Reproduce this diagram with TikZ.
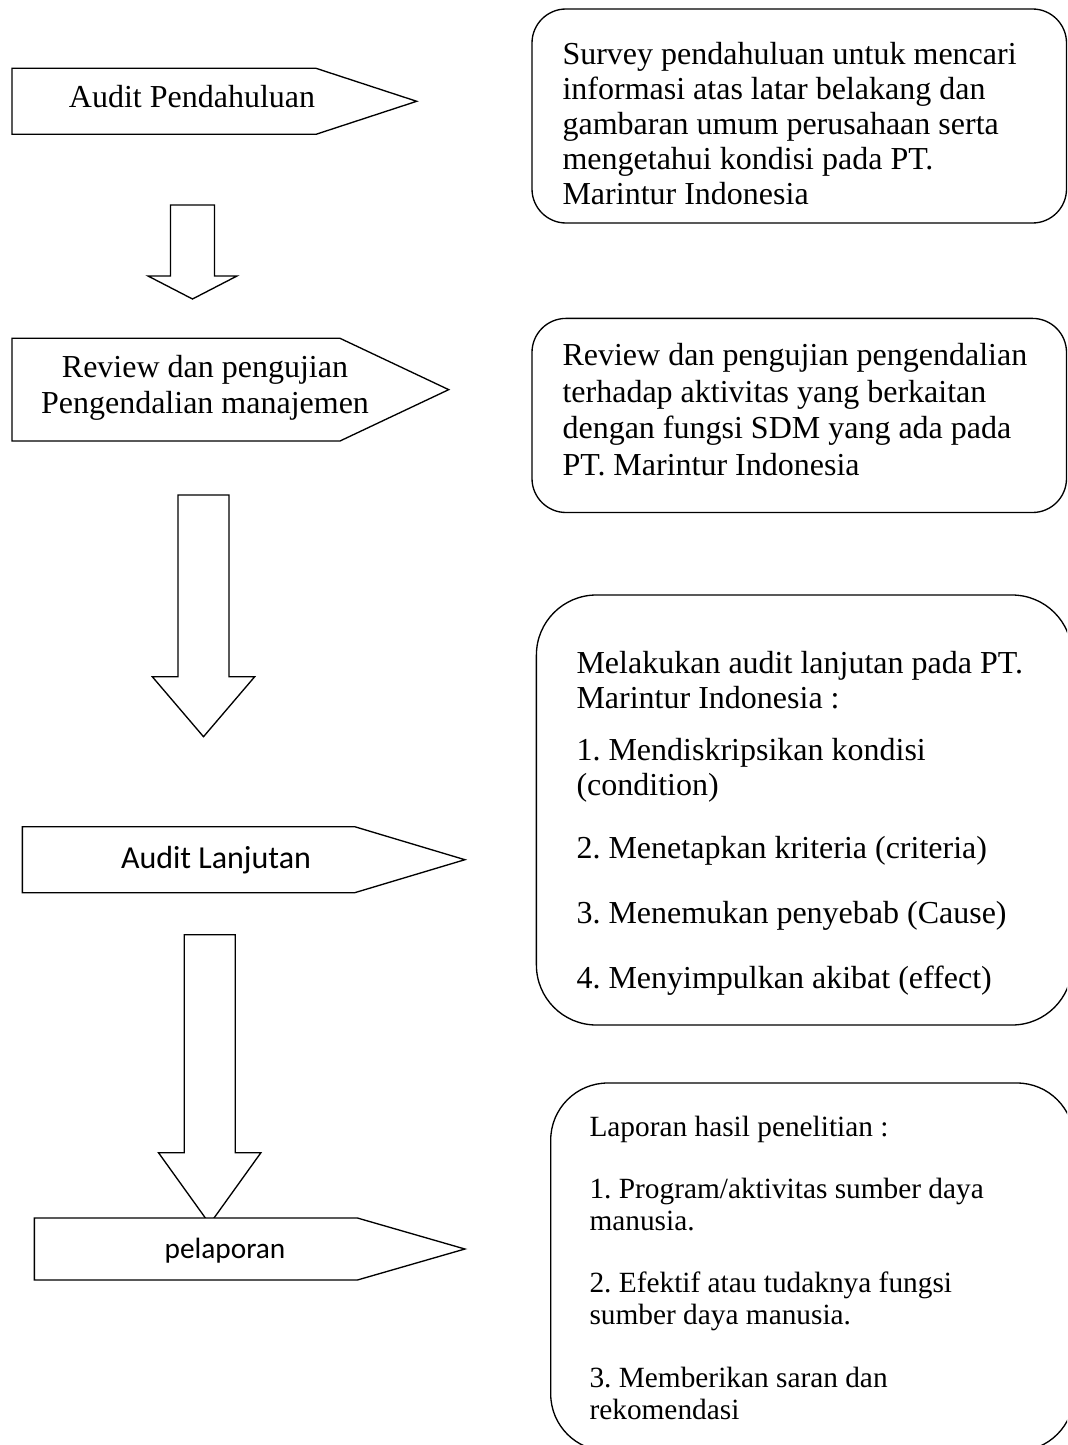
\documentclass[tikz,border=0pt]{standalone}
\usepackage{fontspec}
\setmainfont{Liberation Serif}
\newfontfamily\calibri{Carlito}
\frenchspacing

% block arrow: x, top, head, tip, shaft half width, head half width
\newcommand{\blockarrow}[6]{\draw[blk] ({#1-#5},#2) -- ({#1+#5},#2) -- ({#1+#5},#3) -- ({#1+#6},#3) -- (#1,#4) -- ({#1-#6},#3) -- ({#1-#5},#3) -- cycle;}
% pentagon: left, top, bottom, shoulder, tip
\newcommand{\pentagon}[5]{\draw[pent] (#1,#2) -- (#4,#2) -- (#5,{(#2+#3)/2}) -- (#4,#3) -- (#1,#3) -- cycle;}

\begin{document}
\begin{tikzpicture}[x=0.375pt, y=-0.375pt,
		pent/.style={line width=0.5pt, fill=white},
		blk/.style={line width=0.5pt, fill=white},
		note/.style={line width=0.5pt},
		txt/.style={inner sep=0pt, align=left, anchor=north west}]
				\useasboundingbox (0,0) rectangle (1067,1445);
				\clip (0,0) rectangle (1067,1445);
				
				% Draw block arrows
				\blockarrow{192.5}{205}{276}{299}{22}{44.5}
				\blockarrow{203.5}{495}{676.7}{736.7}{25.5}{51.2}
				\blockarrow{209.7}{934.8}{1152.7}{1224}{25.5}{51.2}
				
				% Draw steps
				\pentagon{12}{68.3}{134.3}{316}{416.7}
				\pentagon{12}{338.3}{441}{340}{448.7}
				\pentagon{22.4}{826.7}{892.7}{354.7}{464.9}
				\pentagon{34.4}{1218}{1280}{357.4}{464.9}
				
				\node[anchor=base, inner sep=0pt, font=\fontsize{12}{13.75}\selectfont] (audit) at (192,108) {Audit Pendahuluan};
				\node[anchor=north, inner sep=0pt, align=center, font=\fontsize{12}{13.75}\selectfont] (review) at (205,351) {\strut Review dan pengujian\\Pengendalian manajemen};
				\node[anchor=base, inner sep=0pt, font=\calibri\fontsize{12}{14}\selectfont] (lanjutan) at (216,868.3) {Audit Lanjutan};
				\node[anchor=base, inner sep=0pt, font=\calibri\fontsize{11}{13}\selectfont] (pelaporan) at (225,1258) {pelaporan};
				
				% Draw notes
				\draw[note, rounded corners=12.75pt] (532,9) rectangle (1066.5,223);
				\draw[note, rounded corners=12.75pt] (532,318.4) rectangle (1066.5,512.5);
				\draw[note, rounded corners=22.5pt] (536.4,595) rectangle (1072,1025);
				\draw[note, rounded corners=21.4pt] (550.7,1083) rectangle (1074,1451);
				
				\node[txt, font=\fontsize{12}{13.2}\selectfont] (survey) at (562,38.9) {\strut Survey pendahuluan untuk mencari\\informasi atas latar belakang dan\\gambaran umum perusahaan serta\\mengetahui kondisi pada PT.\\Marintur Indonesia};
				\node[txt, font=\fontsize{12}{13.75}\selectfont] (pengujian) at (562,339.3) {\strut Review dan pengujian pengendalian\\terhadap aktivitas yang berkaitan\\dengan fungsi SDM yang ada pada\\PT. Marintur Indonesia};
				\node[txt, font=\fontsize{12}{13.1}\selectfont] (lanjut) at (576,648.5) {\strut Melakukan audit lanjutan pada PT.\\Marintur Indonesia :\\[6.4pt]1. Mendiskripsikan kondisi\\(condition)\\[10.5pt]2. Menetapkan kriteria (criteria)\\[11.5pt]3. Menemukan penyebab (Cause)\\[11.3pt]4. Menyimpulkan akibat (effect)};
				\node[txt, font=\fontsize{11}{12}\selectfont] (laporan) at (589,1113.6) {\strut Laporan hasil penelitian :\\[11.25pt]1. Program/aktivitas sumber daya\\manusia.\\[11.25pt]2. Efektif atau tudaknya fungsi\\sumber daya manusia.\\[11.5pt]3. Memberikan saran dan\\rekomendasi};
			\end{tikzpicture}
\end{document}
